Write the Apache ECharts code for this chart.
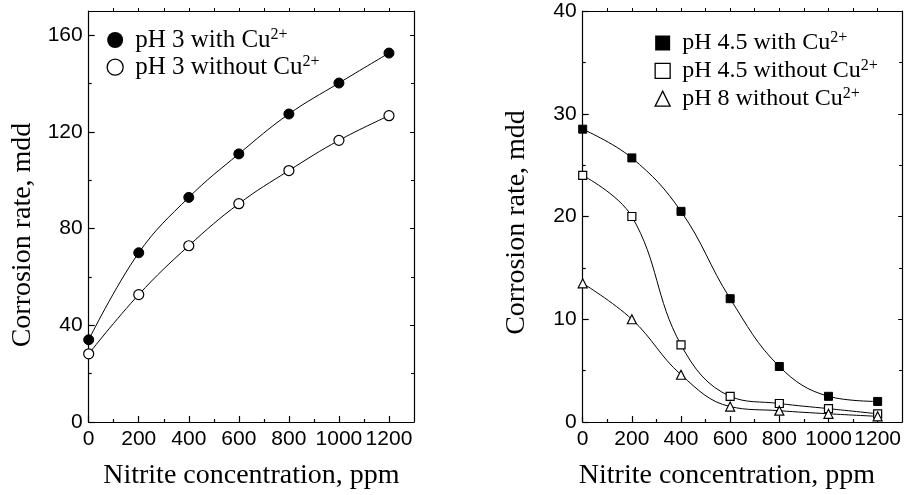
<!DOCTYPE html>
<html>
<head>
<meta charset="utf-8">
<script src="https://cdn.jsdelivr.net/npm/echarts@6/dist/echarts.min.js"></script>
<style>html,body{margin:0;padding:0;background:#fff;}#c{width:904px;height:495px;}</style>
</head>
<body>
<div id="c"></div>
<script>
// ---- data ----
const conc = [0, 200, 400, 600, 800, 1000, 1200];
const ph3WithCu = [34.0, 70.0, 92.9, 110.9, 127.4, 140.2, 152.6];
const ph3WithoutCu = [28.2, 52.7, 72.9, 90.3, 104.0, 116.5, 126.7];
const ph45WithCu = [28.5, 25.7, 20.5, 12.0, 5.4, 2.5, 2.0];
const ph45WithoutCu = [24.0, 20.0, 7.5, 2.5, 1.8, 1.3, 0.8];
const ph8WithoutCu = [13.5, 10.0, 4.6, 1.5, 1.1, 0.8, 0.55];

const xMajorTicks = [0, 200, 400, 600, 800, 1000, 1200];
const xMinorTicks = [100, 300, 500, 700, 900, 1100];
const xTopTicks = [100, 200, 300, 400, 500, 600, 700, 800, 900, 1000, 1100, 1200];
const leftYMajor = [0, 40, 80, 120, 160];
const leftYMinor = [20, 60, 100, 140];
const rightYMajor = [0, 10, 20, 30, 40];
const rightYMinor = [5, 15, 25, 35];

const xTitle = 'Nitrite concentration, ppm';
const yTitle = 'Corrosion rate, mdd';
const leftNames = ['pH 3 with Cu2+', 'pH 3 without Cu2+'];
const rightNames = ['pH 4.5 with Cu2+', 'pH 4.5 without Cu2+', 'pH 8 without Cu2+'];

// ---- styling helpers ----
const SANS = 'Liberation Sans';
const SERIF = 'Liberation Serif';
const AX = {color: '#000', width: 1.2};
const THIN = {color: '#000', width: 1};
const plain = v => String(v);

function xAxes(grid, titlePad) {
  const base = {gridIndex: grid, type: 'value', min: 0, max: 1300, splitLine: {show: false}};
  return [
    Object.assign({}, base, {position: 'bottom',
     axisLine: {show: true, onZero: false, lineStyle: AX},
     axisTick: {show: true, inside: true, length: 6, customValues: xMajorTicks, lineStyle: AX},
     axisLabel: {customValues: xMajorTicks, formatter: plain, showMinLabel: true, showMaxLabel: true,
                 hideOverlap: false, fontFamily: SANS, fontSize: 21, color: '#000', margin: 7},
     name: xTitle, nameLocation: 'middle', nameGap: 40,
     nameTextStyle: {fontFamily: SERIF, fontSize: 28, color: '#000', padding: titlePad}}),
    Object.assign({}, base, {position: 'bottom',
     axisLine: {show: false, onZero: false},
     axisTick: {show: true, inside: true, length: 3, customValues: xMinorTicks, lineStyle: AX},
     axisLabel: {show: false}}),
    Object.assign({}, base, {position: 'top',
     axisLine: {show: true, onZero: false, lineStyle: AX},
     axisTick: {show: true, inside: false, length: 3, customValues: xTopTicks, lineStyle: THIN},
     axisLabel: {show: false}})
  ];
}
function yAxes(grid, max, major, minor, titlePad) {
  const base = {gridIndex: grid, type: 'value', min: 0, max: max, splitLine: {show: false}};
  return [
    Object.assign({}, base, {position: 'left',
     axisLine: {show: true, onZero: false, lineStyle: AX},
     axisTick: {show: true, inside: true, length: 6, customValues: major, lineStyle: AX},
     axisLabel: {customValues: major, formatter: plain, showMinLabel: true, showMaxLabel: true,
                 hideOverlap: false, fontFamily: SANS, fontSize: 21, color: '#000', margin: 6},
     name: yTitle, nameLocation: 'middle', nameGap: 52,
     nameTextStyle: {fontFamily: SERIF, fontSize: 28, color: '#000', padding: titlePad}}),
    Object.assign({}, base, {position: 'left', axisLine: {show: false, onZero: false},
     axisTick: {show: true, inside: true, length: 3, customValues: minor, lineStyle: AX},
     axisLabel: {show: false}}),
    Object.assign({}, base, {position: 'right', axisLine: {show: true, onZero: false, lineStyle: AX},
     axisTick: {show: true, inside: true, length: 4, customValues: major, lineStyle: THIN},
     axisLabel: {show: false}}),
    Object.assign({}, base, {position: 'right', axisLine: {show: false, onZero: false},
     axisTick: {show: true, inside: true, length: 3, customValues: minor, lineStyle: THIN},
     axisLabel: {show: false}})
  ];
}
function pts(ys) { return conc.map((x, i) => [x, ys[i]]); }
function series(name, ys, xi, yi, symbol, size, filled) {
  return {
    name: name, type: 'line', xAxisIndex: xi, yAxisIndex: yi,
    data: pts(ys), smooth: 0.4, symbol: symbol, symbolSize: size,
    showAllSymbol: true, clip: false,
    lineStyle: {color: '#000', width: 1},
    itemStyle: filled ? {color: '#000', borderColor: '#000', borderWidth: 1}
                      : {color: '#fff', borderColor: '#000', borderWidth: 1.2},
    emphasis: {disabled: true}, z: 3
  };
}
function legendRich(size) {
  return {
    t: {fontFamily: SERIF, fontSize: size, color: '#000', lineHeight: 26, padding: [0, 0, 0, 7]},
    s: {fontFamily: SERIF, fontSize: 16, color: '#000', lineHeight: 18, verticalAlign: 'top'}
  };
}
function legFmt(n) { return '{t|' + n.slice(0, -2) + '}{s|2+}'; }
const openStyle = {color: '#fff', borderColor: '#000', borderWidth: 1.3};
const fillStyle = {color: '#000', borderColor: '#000', borderWidth: 0};

const option = {
  animation: false,
  backgroundColor: '#fff',
  grid: [
    {left: 88.7, top: 11, width: 325.3, height: 412},
    {left: 582.7, top: 11, width: 319.6, height: 414}
  ],
  xAxis: xAxes(0, [0, 0, 0, 0]).concat(xAxes(1, [0, 31, 0, 0])),
  yAxis: yAxes(0, 170, leftYMajor, leftYMinor, [0, 37, 0, 0])
    .concat(yAxes(1, 40, rightYMajor, rightYMinor, [0, 12, 0, 0])),
  legend: [
    {orient: 'vertical', left: 101.5, top: 22, itemWidth: 16, itemHeight: 16, itemGap: 1.7,
     selectedMode: false, formatter: legFmt,
     textStyle: {fontFamily: SERIF, fontSize: 25, color: '#000', rich: legendRich(25)},
     data: [
       {name: leftNames[0], icon: 'circle', itemStyle: fillStyle},
       {name: leftNames[1], icon: 'circle', itemStyle: openStyle}
     ]},
    {orient: 'vertical', left: 649.5, top: 25, itemWidth: 15, itemHeight: 15, itemGap: 2.8,
     selectedMode: false, formatter: legFmt,
     textStyle: {fontFamily: SERIF, fontSize: 24, color: '#000', rich: legendRich(24)},
     data: [
       {name: rightNames[0], icon: 'rect', itemStyle: fillStyle},
       {name: rightNames[1], icon: 'rect', itemStyle: openStyle},
       {name: rightNames[2], icon: 'triangle', itemStyle: openStyle}
     ]}
  ],
  series: [
    series(leftNames[0], ph3WithCu, 0, 0, 'circle', 10, true),
    series(leftNames[1], ph3WithoutCu, 0, 0, 'circle', 10, false),
    series(rightNames[0], ph45WithCu, 3, 4, 'rect', 8, true),
    series(rightNames[1], ph45WithoutCu, 3, 4, 'rect', 8, false),
    series(rightNames[2], ph8WithoutCu, 3, 4, 'triangle', 9, false)
  ]
};
const chart = echarts.init(document.getElementById('c'), null, {renderer: 'canvas'});
chart.setOption(option);
</script>
</body>
</html>
